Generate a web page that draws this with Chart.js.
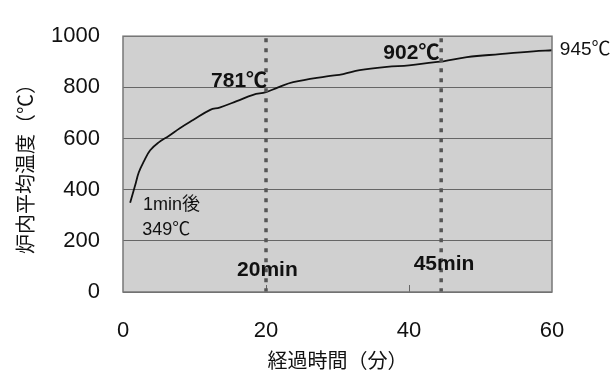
<!DOCTYPE html>
<html>
<head>
<meta charset="utf-8">
<script src="https://cdn.jsdelivr.net/npm/chart.js@4"></script>
<style>
    html, body { margin: 0; padding: 0; background: #fff; }
</style>
</head>
<body>
<canvas id="chartFurnace" width="616" height="376"></canvas>
<script>
// Datos
const minutes = [1, 1.7, 2.2, 2.9, 3.8, 5, 6.4, 8, 9.8, 12.2, 13.5, 15.9, 18.2, 20, 21.7, 23.8, 28.5, 30.8, 33.1, 36.9, 40, 43.4, 44.8, 48.1, 52.7, 57.4, 60];
const temps = [349, 417, 467, 510, 554, 585, 610, 641, 672, 712, 721, 746, 771, 781, 800, 820, 843, 852, 867, 880, 886, 898, 902, 918, 930, 941, 945];
const xTicks = [0, 20, 40, 60];
const yTicks = [0, 200, 400, 600, 800, 1000];
const markerMinutes = [20, 44.5];

// Anotaciones (en unidades de datos)
const notes = [
    { text: '781℃', x: 20.15, y: 823, align: 'right', bold: true, size: 21 },
    { text: '902℃', x: 44.25, y: 935, align: 'right', bold: true, size: 21 },
    { text: '945℃', x: 61.1, y: 946, align: 'left', bold: false, size: 19 },
    { text: '1min後', x: 2.8, y: 339, align: 'left', bold: false, size: 18 },
    { text: '349℃', x: 2.7, y: 244, align: 'left', bold: false, size: 18 },
    { text: '20min', x: 20.2, y: 86, align: 'center', bold: true, size: 21 },
    { text: '45min', x: 44.9, y: 108, align: 'center', bold: true, size: 21 }
];

const FONT = "'Liberation Sans', 'Noto Sans CJK JP', sans-serif";
const JP_FONT = "'Noto Sans CJK JP', sans-serif";

const furnacePlugin = {
    id: 'furnacePlugin',
    beforeDraw(chart) {
        const { ctx, chartArea: a } = chart;
        ctx.save();
        ctx.fillStyle = '#d0d0d0';
        ctx.fillRect(a.left, a.top, a.right - a.left, a.bottom - a.top);
        ctx.restore();
    },
    afterDatasetsDraw(chart) {
        const { ctx, chartArea: a, scales: { x, y } } = chart;
        ctx.save();

        // Marcas internas del eje X
        ctx.strokeStyle = '#666';
        ctx.lineWidth = 1;
        xTicks.slice(1, -1).forEach(v => {
            const px = Math.round(x.getPixelForValue(v)) + 0.5;
            ctx.beginPath();
            ctx.moveTo(px, a.bottom);
            ctx.lineTo(px, a.bottom - 7);
            ctx.stroke();
        });

        // Líneas punteadas verticales
        ctx.strokeStyle = '#555';
        ctx.lineWidth = 3.5;
        ctx.setLineDash([4, 6]);
        markerMinutes.forEach(v => {
            const px = x.getPixelForValue(v);
            ctx.beginPath();
            ctx.moveTo(px, a.top + 2);
            ctx.lineTo(px, a.bottom);
            ctx.stroke();
        });
        ctx.setLineDash([]);

        // Marco
        ctx.strokeStyle = '#777';
        ctx.lineWidth = 1.5;
        ctx.strokeRect(a.left, a.top, a.right - a.left, a.bottom - a.top);

        // Textos
        ctx.fillStyle = '#111';
        ctx.textBaseline = 'middle';
        notes.forEach(n => {
            ctx.font = (n.bold ? 'bold ' : '') + n.size + 'px ' + FONT;
            ctx.textAlign = n.align;
            ctx.fillText(n.text, x.getPixelForValue(n.x), y.getPixelForValue(n.y));
        });

        ctx.restore();
    }
};

new Chart(document.getElementById('chartFurnace'), {
    type: 'line',
    data: {
        datasets: [{
            data: minutes.map((m, i) => ({ x: m, y: temps[i] })),
            borderColor: '#111',
            borderWidth: 1.8,
            pointRadius: 0,
            tension: 0.4,
            fill: false
        }]
    },
    options: {
        responsive: false,
        animation: false,
        devicePixelRatio: 1,
        layout: { padding: { left: 13, right: 64, top: 23, bottom: 4 } },
        plugins: {
            legend: { display: false },
            tooltip: { enabled: false }
        },
        scales: {
            x: {
                type: 'linear',
                min: 0,
                max: 60,
                afterBuildTicks: s => { s.ticks = xTicks.map(v => ({ value: v })); },
                afterFit: s => { s.height = 80; },
                grid: { display: false, drawTicks: false },
                border: { display: false },
                ticks: {
                    padding: 26, color: '#111',
                    font: { family: FONT, size: 22 },
                    callback: v => String(v)
                },
                title: {
                    display: true,
                    text: '経過時間（分）',
                    color: '#111',
                    padding: 0,
                    font: { family: JP_FONT, size: 20 }
                }
            },
            y: {
                min: 0,
                max: 1000,
                afterBuildTicks: s => { s.ticks = yTicks.map(v => ({ value: v })); },
                afterFit: s => { s.width = 110; },
                grid: { color: '#666', lineWidth: 1, drawTicks: false },
                border: { display: false },
                ticks: {
                    padding: 23, color: '#111',
                    font: { family: FONT, size: 22 },
                    callback: v => String(v)
                },
                title: {
                    display: true,
                    text: '炉内平均温度（℃）',
                    color: '#111',
                    padding: 0,
                    font: { family: JP_FONT, size: 20 }
                }
            }
        }
    },
    plugins: [furnacePlugin]
});
</script>
</body>
</html>
